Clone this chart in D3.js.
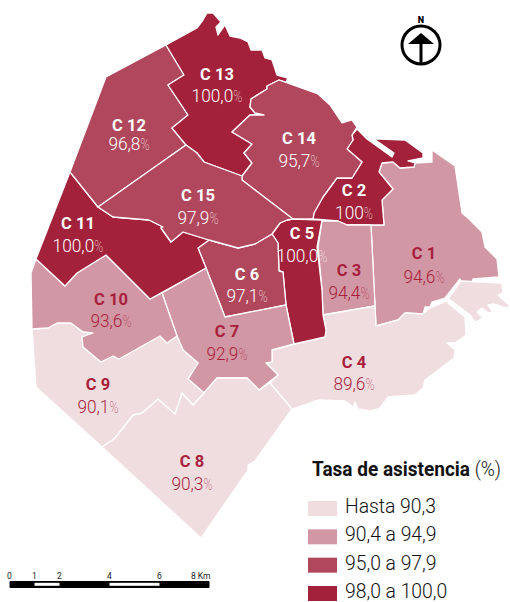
<!DOCTYPE html>
<html>
<head>
<meta charset="utf-8">
<script src="https://cdn.jsdelivr.net/npm/d3@7"></script>
<style>
	html, body { margin: 0; padding: 0; background: #fff; }
	svg { display: block; }
	text { font-family: Roboto, sans-serif; }
</style>
</head>
<body>
<svg id="map" width="510" height="602"></svg>
<script>
// data
const comunas = ['C 1','C 2','C 3','C 4','C 5','C 6','C 7','C 8','C 9','C 10','C 11','C 12','C 13','C 14','C 15'];
const tasas = [94.6, 100, 94.4, 89.6, 100.0, 97.1, 92.9, 90.3, 90.1, 93.6, 100.0, 96.8, 100.0, 95.7, 97.9];
const tasaLabels = ['94,6','100','94,4','89,6','100,0','97,1','92,9','90,3','90,1','93,6','100,0','96,8','100,0','95,7','97,9'];
const legendLabels = ['Hasta 90,3','90,4 a 94,9','95,0 a 97,9','98,0 a 100,0'];
const legendBreaks = [90.35, 94.95, 97.95];
const scaleTicks = [0, 1, 2, 4, 6, 8];
const scaleWhiteStretches = [[1, 2], [4, 6]];

// outlines in map units
const ringC1 = [[371,225],[384,225],[382,200],[393,189],[379,172],[382,163],[393,162],[400,168],[414,167],[415,163],[432,162],[432,150],[455,166],[462,213],[468,218],[482,232],[485,247],[497,259],[499,277],[473,279],[472,284],[463,284],[460,279],[445,298],[432,302],[430,307],[425,307],[423,314],[405,313],[398,320],[376,326]];
const ringC2 = [[357,129],[367,139],[392,157],[394,153],[374,139],[380,139],[405,140],[423,153],[423,158],[408,161],[415,163],[414,167],[400,168],[393,162],[382,163],[379,172],[393,189],[382,200],[384,225],[347,225],[338,221],[313,219],[314,213],[323,197],[337,178],[352,178],[362,162],[347,149],[353,140],[352,135]];
const ringC3 = [[322,221],[338,221],[347,225],[371,225],[375,306],[323,315],[322,290],[318,247]];
const ringC4 = [[272,350],[294,344],[325,337],[326,330],[323,315],[375,306],[376,326],[398,320],[405,313],[423,314],[430,308],[447,301],[461,281],[502,283],[503,293],[498,295],[510,306],[507,308],[494,304],[488,305],[493,312],[488,313],[482,308],[477,312],[483,318],[475,322],[470,315],[449,299],[448,303],[465,317],[466,335],[455,343],[447,343],[455,350],[454,358],[425,380],[423,388],[415,395],[388,397],[380,408],[370,411],[358,409],[355,402],[353,407],[345,401],[318,400],[292,409],[270,383],[278,375],[266,363],[272,362]];
const ringC5 = [[293,219],[322,220],[317,247],[322,290],[323,315],[326,330],[325,337],[294,344],[286,305],[283,272],[279,271],[278,243],[272,234],[280,223],[287,220]];
const ringC6 = [[209,240],[238,248],[255,244],[272,234],[278,243],[279,271],[283,272],[286,305],[225,317],[206,268],[198,248]];
const ringC7 = [[162,293],[206,268],[225,317],[286,305],[294,344],[272,350],[272,362],[266,363],[278,375],[259,390],[247,378],[217,378],[204,393],[188,379],[198,363],[183,350],[177,336]];
const ringC8 = [[102,447],[115,438],[133,415],[142,413],[158,399],[175,414],[182,393],[193,405],[204,393],[217,378],[247,378],[259,390],[270,383],[292,409],[255,461],[248,465],[248,470],[201,538]];
const ringC9 = [[32,329],[48,328],[57,323],[71,323],[83,332],[93,333],[82,337],[83,347],[101,362],[113,356],[119,359],[160,336],[167,343],[177,336],[183,350],[198,363],[188,379],[204,393],[193,405],[182,393],[175,414],[158,399],[142,413],[133,415],[115,438],[102,447],[36,387]];
const ringC10 = [[31,273],[36,259],[65,286],[77,273],[106,255],[150,299],[162,293],[177,336],[167,343],[160,336],[119,359],[113,356],[101,362],[83,347],[82,337],[93,333],[83,332],[71,323],[57,323],[48,328],[32,329]];
const ringC11 = [[70,172],[98,207],[113,217],[149,220],[163,227],[161,228],[171,242],[183,232],[209,240],[198,248],[206,268],[150,299],[106,255],[77,273],[65,286],[36,259]];
const ringC12 = [[166,45],[106,77],[70,172],[98,207],[186,145],[172,128],[188,115],[168,85],[184,75]];
const ringC13 = [[166,45],[197,28],[203,20],[207,13],[213,13],[221,22],[216,27],[218,35],[225,25],[230,36],[240,38],[248,42],[251,50],[262,50],[265,58],[272,60],[277,75],[288,78],[286,82],[279,80],[267,86],[267,89],[251,99],[250,107],[255,113],[264,115],[250,115],[232,132],[252,144],[244,153],[252,163],[242,176],[204,162],[197,153],[186,145],[172,128],[188,115],[168,85],[184,75]];
const ringC14 = [[279,80],[318,94],[330,105],[342,123],[352,120],[357,127],[352,135],[353,140],[347,149],[362,162],[352,178],[337,178],[323,197],[314,213],[313,219],[293,219],[255,190],[242,180],[242,176],[252,163],[244,153],[252,144],[232,132],[250,115],[264,115],[255,113],[250,107],[251,99],[267,89],[267,86]];
const ringC15 = [[98,207],[186,145],[197,153],[204,162],[242,176],[242,180],[255,190],[293,219],[287,220],[280,223],[272,234],[255,244],[238,248],[209,240],[183,232],[171,242],[161,228],[163,227],[149,220],[113,217]];
const rings = [ringC1,ringC2,ringC3,ringC4,ringC5,ringC6,ringC7,ringC8,ringC9,ringC10,ringC11,ringC12,ringC13,ringC14,ringC15];

// where the two label lines sit: [center x, name baseline, value baseline]
const labelSpots = [[424,259,283],[354,196,219],[349,276,299],[354,368,390],[302,239,262],[247,280,302],[227,337,360],[192,467,490],[98,390,413],[111,305,327],[78,229,252],[129,131,150],[217,80,102],[299,144,167],[198,201,224]];

const colors = ['#f0dde0','#d297a4','#b1475c','#a3213a'];
const inkDark = '#a81f3d';

const color = d3.scaleThreshold().domain(legendBreaks).range(colors);
const path = d3.geoPath(d3.geoIdentity());
const svg = d3.select('#map');

const features = rings.map(function(ring, i){
	return { type:'Feature', properties:{ name:comunas[i], tasa:tasas[i], label:tasaLabels[i], spot:labelSpots[i] },
		geometry:{ type:'Polygon', coordinates:[ring.concat([ring[0]])] } };
});

// squeeze a text sideways, the original face is narrower than Roboto
const squeeze = function(selection, factor)
{
	selection.each(function(){
		this.setAttribute('lengthAdjust', 'spacingAndGlyphs');
		this.setAttribute('textLength', this.getComputedTextLength() * factor);
	});
}

svg.append('g').selectAll('path').data(features).join('path')
	.attr('d', path)
	.attr('fill', (d)=>color(d.properties.tasa))
	.attr('stroke', '#fff')
	.attr('stroke-width', 1.3)
	.attr('stroke-linejoin', 'round');

const inkFor = (d)=> color(d.properties.tasa) === colors[0] || color(d.properties.tasa) === colors[1] ? inkDark : '#fff';
const labels = svg.append('g').attr('text-anchor', 'middle').selectAll('g').data(features).join('g');

labels.append('text')
	.attr('x', (d)=>d.properties.spot[0])
	.attr('y', (d)=>d.properties.spot[1])
	.attr('fill', inkFor)
	.attr('font-size', 16.5)
	.attr('font-weight', 700)
	.text((d)=>d.properties.name);

const values = labels.append('text')
	.attr('x', (d)=>d.properties.spot[0])
	.attr('y', (d)=>d.properties.spot[2])
	.attr('fill', inkFor)
	.attr('font-size', 18)
	.attr('font-weight', 300);
values.append('tspan').text((d)=>d.properties.label);
values.append('tspan').attr('font-weight', 100).attr('font-size', 17).attr('opacity', 0.85).text('%').call(squeeze, 0.72);
values.call(squeeze, 0.96);

// north arrow
const north = svg.append('g').attr('transform', 'translate(421,45)');
north.append('circle').attr('r', 19).attr('fill', '#fff').attr('stroke', '#000').attr('stroke-width', 3);
north.append('path').attr('d', d3.line()([[0,-12],[13,-1],[-13,-1]]) + 'Z').attr('fill', '#000');
north.append('rect').attr('x', -1.5).attr('y', -2).attr('width', 3).attr('height', 20).attr('fill', '#000');
north.append('text').attr('y', -22).attr('text-anchor', 'middle').attr('font-size', 9).attr('font-weight', 900).text('N');

// scale bar
const km = d3.scaleLinear().domain([0, 8]).range([9.5, 209.5]);
const bar = svg.append('g');
bar.append('rect').attr('x', km(0)).attr('y', 581).attr('width', km(8)-km(0)).attr('height', 7).attr('rx', 1).attr('fill', '#000');
bar.selectAll('.stretch').data(scaleWhiteStretches).join('rect')
	.attr('class', 'stretch')
	.attr('x', (d)=>km(d[0]))
	.attr('y', 582.8)
	.attr('width', (d)=>km(d[1])-km(d[0]))
	.attr('height', 3)
	.attr('fill', '#fff');
bar.selectAll('.tick').data(scaleTicks).join('text')
	.attr('class', 'tick')
	.attr('x', (d)=>km(d))
	.attr('y', 579)
	.attr('text-anchor', (d)=> d === 8 ? 'end' : 'middle')
	.attr('dx', (d)=> d === 8 ? 1 : 0)
	.attr('font-size', 8.5)
	.attr('fill', '#222')
	.text((d)=> d === 8 ? '8 Km' : d);

// legend
const legendY = d3.scalePoint().domain(legendLabels).range([501, 586]);
const title = svg.append('text').attr('x', 312).attr('y', 476).attr('font-size', 20).attr('font-weight', 700).attr('fill', '#111');
title.append('tspan').text('Tasa de asistencia ');
title.append('tspan').attr('font-weight', 300).text('(%)');
title.call(squeeze, 0.95);

svg.append('g').selectAll('rect').data(legendLabels).join('rect')
	.attr('x', 308)
	.attr('y', (d)=>legendY(d))
	.attr('width', 29)
	.attr('height', 15)
	.attr('fill', (d, i)=>colors[i]);
svg.append('g').selectAll('text').data(legendLabels).join('text')
	.attr('x', 345)
	.attr('y', (d)=>legendY(d) + 12)
	.attr('font-size', 21)
	.attr('font-weight', 300)
	.attr('fill', '#111')
	.text((d)=>d)
	.call(squeeze, 0.92);
</script>
</body>
</html>
